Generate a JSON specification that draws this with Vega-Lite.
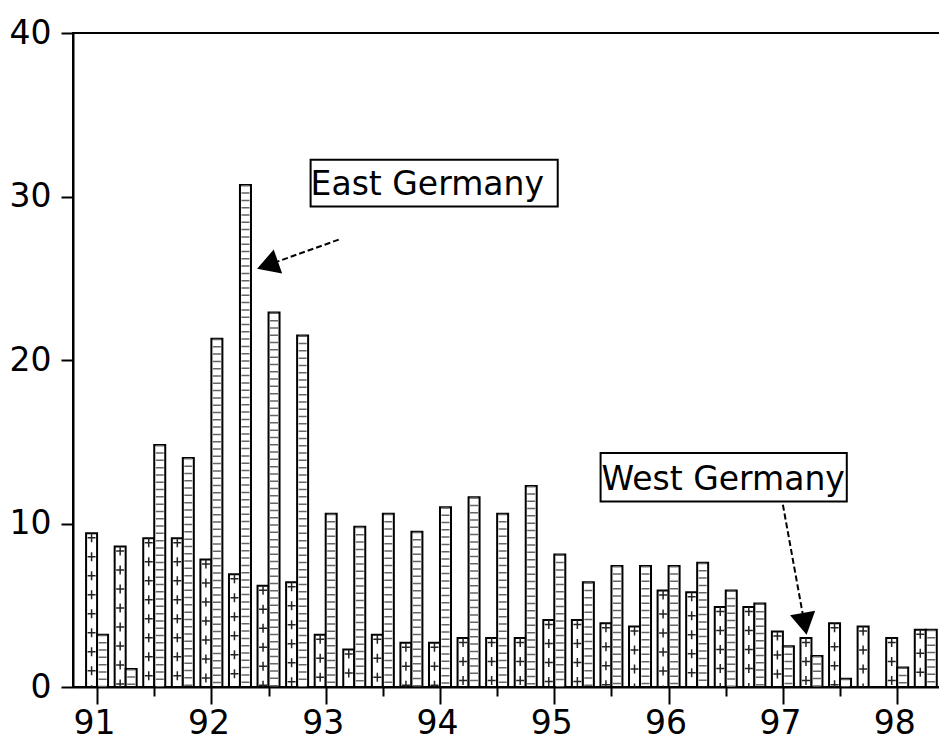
{
  "$schema": "https://vega.github.io/schema/vega-lite/v6.json",
  "autosize": {"type": "none"},
  "padding": {"left": 73, "top": 33, "right": 0, "bottom": 54},
  "width": 870,
  "height": 654,
  "background": "white",
  "config": {
    "view": {"stroke": "black", "strokeWidth": 2},
    "font": "DejaVu Sans",
    "axis": {
      "domainColor": "black",
      "domainWidth": 2,
      "tickColor": "black",
      "tickWidth": 2,
      "labelColor": "black",
      "labelFont": "DejaVu Sans",
      "labelFontSize": 33,
      "grid": false,
      "title": null
    }
  },
  "datasets": {
    "rates": [
      {"year": 1991.00, "west": 9.4, "east": 3.2},
      {"year": 1991.25, "west": 8.6, "east": 1.1},
      {"year": 1991.50, "west": 9.1, "east": 14.8},
      {"year": 1991.75, "west": 9.1, "east": 14.0},
      {"year": 1992.00, "west": 7.8, "east": 21.3},
      {"year": 1992.25, "west": 6.9, "east": 30.7},
      {"year": 1992.50, "west": 6.2, "east": 22.9},
      {"year": 1992.75, "west": 6.4, "east": 21.5},
      {"year": 1993.00, "west": 3.2, "east": 10.6},
      {"year": 1993.25, "west": 2.3, "east": 9.8},
      {"year": 1993.50, "west": 3.2, "east": 10.6},
      {"year": 1993.75, "west": 2.7, "east": 9.5},
      {"year": 1994.00, "west": 2.7, "east": 11.0},
      {"year": 1994.25, "west": 3.0, "east": 11.6},
      {"year": 1994.50, "west": 3.0, "east": 10.6},
      {"year": 1994.75, "west": 3.0, "east": 12.3},
      {"year": 1995.00, "west": 4.1, "east": 8.1},
      {"year": 1995.25, "west": 4.1, "east": 6.4},
      {"year": 1995.50, "west": 3.9, "east": 7.4},
      {"year": 1995.75, "west": 3.7, "east": 7.4},
      {"year": 1996.00, "west": 5.9, "east": 7.4},
      {"year": 1996.25, "west": 5.8, "east": 7.6},
      {"year": 1996.50, "west": 4.9, "east": 5.9},
      {"year": 1996.75, "west": 4.9, "east": 5.1},
      {"year": 1997.00, "west": 3.4, "east": 2.5},
      {"year": 1997.25, "west": 3.0, "east": 1.9},
      {"year": 1997.50, "west": 3.9, "east": 0.5},
      {"year": 1997.75, "west": 3.7, "east": 0},
      {"year": 1998.00, "west": 3.0, "east": 1.2},
      {"year": 1998.25, "west": 3.5, "east": 3.5}
    ],
    "labels": [
      {"name": "East Germany"},
      {"name": "West Germany"}
    ]
  },
  "layer": [
    {
      "data": {"name": "rates"},
      "encoding": {
        "x": {
          "field": "year",
          "type": "quantitative",
          "scale": {"domain": [1990.833, 1998.357], "nice": false, "zero": false},
          "axis": {
            "values": [1991, 1991.25, 1991.5, 1991.75, 1992, 1992.25, 1992.5, 1992.75, 1993, 1993.25, 1993.5, 1993.75, 1994, 1994.25, 1994.5, 1994.75, 1995, 1995.25, 1995.5, 1995.75, 1996, 1996.25, 1996.5, 1996.75, 1997, 1997.25, 1997.5, 1997.75, 1998, 1998.25],
            "tickSize": {"condition": {"test": "datum.value % 1 === 0", "value": 17}, "value": 9},
            "labelExpr": "datum.value % 1 === 0 ? substring(format(datum.value, 'd'), 2) : ''",
            "labelOffset": -3,
            "labelPadding": 3,
            "labelBaseline": "top",
            "labelFlush": false,
            "labelOverlap": false,
            "labelBound": false
          }
        }
      },
      "layer": [
        {
          "mark": {"type": "bar", "orient": "vertical", "width": 11, "xOffset": -5.5, "fill": "white", "stroke": "black", "strokeWidth": 2},
          "encoding": {
            "y": {
              "field": "west",
              "type": "quantitative",
              "scale": {"domain": [0, 40], "nice": false},
              "axis": {"values": [0, 10, 20, 30, 40], "tickSize": 12, "labelPadding": 10}
            }
          }
        },
        {
          "mark": {"type": "bar", "orient": "vertical", "width": 11, "xOffset": 5.5, "fill": "white", "stroke": "black", "strokeWidth": 2},
          "encoding": {"y": {"field": "east", "type": "quantitative"}}
        },
        {
          "mark": {"type": "rule", "xOffset": 5.5, "strokeWidth": 8, "color": "#666", "strokeDash": [1.5, 5.8]},
          "encoding": {"y": {"field": "east", "type": "quantitative"}, "y2": {"datum": 0}}
        },
        {
          "mark": {"type": "rule", "xOffset": -5.5, "strokeWidth": 1.5, "color": "#222", "strokeDash": [9, 10]},
          "encoding": {"y": {"field": "west", "type": "quantitative"}, "y2": {"datum": 0}}
        },
        {
          "mark": {"type": "rule", "xOffset": -5.5, "strokeWidth": 8, "color": "#222", "strokeDash": [1.5, 17.5], "strokeDashOffset": 15.25},
          "encoding": {"y": {"field": "west", "type": "quantitative"}, "y2": {"datum": 0}}
        }
      ]
    },
    {
      "data": {"name": "labels"},
      "transform": [{"filter": "datum.name == 'East Germany'"}],
      "layer": [
        {
          "mark": {"type": "rect", "fill": "white", "stroke": "black", "strokeWidth": 2},
          "encoding": {
            "x": {"datum": 1992.868, "type": "quantitative"},
            "x2": {"datum": 1995.03},
            "y": {"datum": 32.25, "type": "quantitative"},
            "y2": {"datum": 29.39}
          }
        },
        {
          "mark": {"type": "text", "align": "left", "baseline": "alphabetic", "fontSize": 33, "font": "DejaVu Sans", "color": "black"},
          "encoding": {
            "x": {"datum": 1992.868, "type": "quantitative"},
            "y": {"datum": 30.11, "type": "quantitative"},
            "text": {"field": "name"}
          }
        },
        {
          "mark": {"type": "rule", "strokeDash": [6, 3], "strokeWidth": 2, "color": "black"},
          "encoding": {
            "x": {"datum": 1993.114, "type": "quantitative"},
            "y": {"datum": 27.36, "type": "quantitative"},
            "x2": {"datum": 1992.581},
            "y2": {"datum": 26.03}
          }
        },
        {
          "mark": {"type": "point", "shape": "triangle-left", "filled": true, "color": "black", "opacity": 1, "size": 650, "angle": 340.7},
          "encoding": {
            "x": {"datum": 1992.491, "type": "quantitative"},
            "y": {"datum": 25.8, "type": "quantitative"}
          }
        }
      ]
    },
    {
      "data": {"name": "labels"},
      "transform": [{"filter": "datum.name == 'West Germany'"}],
      "layer": [
        {
          "mark": {"type": "rect", "fill": "white", "stroke": "black", "strokeWidth": 2},
          "encoding": {
            "x": {"datum": 1995.405, "type": "quantitative"},
            "x2": {"datum": 1997.559},
            "y": {"datum": 14.31, "type": "quantitative"},
            "y2": {"datum": 11.35}
          }
        },
        {
          "mark": {"type": "text", "align": "left", "baseline": "alphabetic", "fontSize": 33, "font": "DejaVu Sans", "color": "black", "dx": 1},
          "encoding": {
            "x": {"datum": 1995.405, "type": "quantitative"},
            "y": {"datum": 12.07, "type": "quantitative"},
            "text": {"field": "name"}
          }
        },
        {
          "mark": {"type": "rule", "strokeDash": [6, 3], "strokeWidth": 2, "color": "black"},
          "encoding": {
            "x": {"datum": 1997.0, "type": "quantitative"},
            "y": {"datum": 11.15, "type": "quantitative"},
            "x2": {"datum": 1997.172},
            "y2": {"datum": 4.52}
          }
        },
        {
          "mark": {"type": "point", "shape": "triangle-left", "filled": true, "color": "black", "opacity": 1, "size": 650, "angle": 259.6},
          "encoding": {
            "x": {"datum": 1997.19, "type": "quantitative"},
            "y": {"datum": 3.86, "type": "quantitative"}
          }
        }
      ]
    }
  ]
}
